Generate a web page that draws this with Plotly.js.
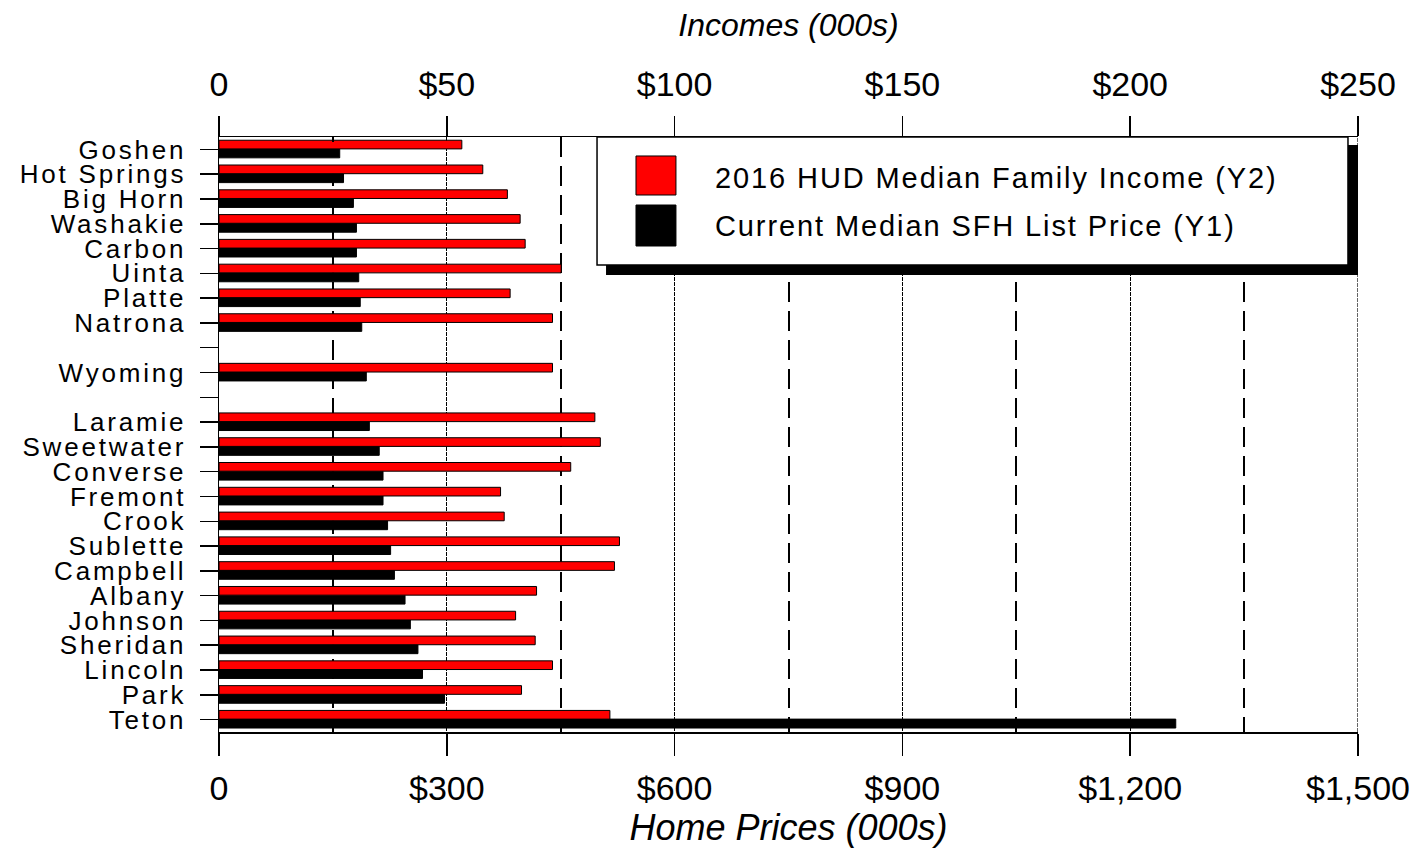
<!DOCTYPE html>
<html>
<head>
<meta charset="utf-8">
<script src="https://cdn.plot.ly/plotly-3.0.1.min.js"></script>
<style>
  html, body { margin: 0; padding: 0; background: #fff; }
  #chart { width: 1422px; height: 850px; }
  .ytick text { letter-spacing: 2.8px; }
  .annotation-text { letter-spacing: 1.9px; }
</style>
</head>
<body>
<div id="chart"></div>
<script>
// Rows from top to bottom (blank strings are the empty spacer rows)
const rows = ['Goshen','Hot Springs','Big Horn','Washakie','Carbon','Uinta','Platte','Natrona',' ','Wyoming','  ','Laramie','Sweetwater','Converse','Fremont','Crook','Sublette','Campbell','Albany','Johnson','Sheridan','Lincoln','Park','Teton'];

// 2016 HUD Median Family Income, $000s (top axis, Y2)
const income = [53.3,57.9,63.3,66.1,67.2,75.1,63.9,73.2,null,73.2,null,82.5,83.7,77.2,61.8,62.6,87.9,86.8,69.7,65.1,69.4,73.2,66.4,85.8];

// Current Median SFH List Price, $000s (bottom axis, Y1)
const price = [159,164,177,181,181,184,186,188,null,194,null,198,211,216,216,222,226,231,245,252,262,268,297,1260];

const priceTicks = [0,300,600,900,1200,1500];
const priceTickText = ['0','$300','$600','$900','$1,200','$1,500'];
const priceMinor = [150,450,750,1050,1350];
const incomeTicks = [0,50,100,150,200,250];
const incomeTickText = ['0','$50','$100','$150','$200','$250'];
const incomeMinor = [25,75,125,175,225];

const seriesNames = ['2016 HUD Median Family Income (Y2)','Current Median SFH List Price (Y1)'];
const seriesColors = ['#ff0000','#000000'];

const FONT = 'Liberation Sans, Arial, sans-serif';

const traces = [
  {
    type: 'bar', orientation: 'h', name: seriesNames[0],
    y: rows, x: income, xaxis: 'x2', yaxis: 'y',
    marker: {color: seriesColors[0], line: {color: '#000', width: 1}},
    width: 0.35, offset: -0.37, showlegend: false, hoverinfo: 'x+y'
  },
  {
    type: 'bar', orientation: 'h', name: seriesNames[1],
    y: rows, x: price, xaxis: 'x', yaxis: 'y',
    marker: {color: seriesColors[1], line: {color: '#000', width: 1}},
    width: 0.36, offset: -0.02, showlegend: false, hoverinfo: 'x+y'
  }
];

// legend geometry in paper fractions
const L = {
  box: [0.3319, 0.9912, 0.7849, 1.0],
  shadow: [0.3398, 1.0, 0.7681, 0.9866],
  sq: [0.3661, 0.4012],
  sqY: [[0.9025, 0.9681], [0.8168, 0.8857]],
  textX: 0.4337,
  textY: [0.9311, 0.8504]
};

const shapes = [
  // right edge grid line at the last major tick
  {type:'line', xref:'x', yref:'paper', x0:priceTicks[priceTicks.length-1], x1:priceTicks[priceTicks.length-1], y0:0, y1:1, line:{color:'#000', width:1.2, dash:'4px,1px'}, layer:'below'},
  {type:'rect', xref:'paper', yref:'paper', x0:L.shadow[0], x1:L.shadow[1], y0:L.shadow[2], y1:L.shadow[3], fillcolor:'#000', line:{width:0}, layer:'above'},
  {type:'rect', xref:'paper', yref:'paper', x0:L.box[0], x1:L.box[1], y0:L.box[2], y1:L.box[3], fillcolor:'#fff', line:{color:'#000', width:1.5}, layer:'above'}
];
const annotations = [];
for (let i = 0; i < 2; i++) {
  shapes.push({type:'rect', xref:'paper', yref:'paper', x0:L.sq[0], x1:L.sq[1], y0:L.sqY[i][0], y1:L.sqY[i][1], fillcolor:seriesColors[i], line:{color:'#000', width:1}, layer:'above'});
  annotations.push({xref:'paper', yref:'paper', x:L.textX, y:L.textY[i], xanchor:'left', yanchor:'middle', text:seriesNames[i], showarrow:false, font:{family:FONT, size:29, color:'#000'}});
}

const layout = {
  width: 1422, height: 850,
  margin: {l: 219, r: 64, t: 137, b: 118, pad: 0},
  paper_bgcolor: '#fff', plot_bgcolor: '#fff',
  font: {family: FONT, color: '#000'},
  barmode: 'overlay',
  showlegend: false,
  xaxis: {
    range: [0, 1500], side: 'bottom', anchor: 'y',
    tickmode: 'array', tickvals: priceTicks, ticktext: priceTickText,
    ticks: 'outside', ticklen: 22, tickwidth: 1.5, tickcolor: '#000',
    tickfont: {family: FONT, size: 34, color: '#000'},
    ticklabelstandoff: 4,
    showline: true, linecolor: '#000', linewidth: 1.5,
    showgrid: true, gridcolor: '#000', gridwidth: 1.2, griddash: '4px,1px',
    zeroline: false,
    minor: {tickmode: 'array', tickvals: priceMinor, ticks: 'inside', ticklen: 5, tickcolor: '#000', tickwidth: 1.5,
            showgrid: true, gridcolor: '#000', gridwidth: 2, griddash: '20px,9px'},
    title: {text: 'Home Prices (000s)', font: {family: FONT, size: 36, style: 'italic', color: '#000'}, standoff: 2},
    automargin: false
  },
  xaxis2: {
    range: [0, 250], side: 'top', overlaying: 'x', anchor: 'y',
    tickmode: 'array', tickvals: incomeTicks, ticktext: incomeTickText,
    ticks: 'outside', ticklen: 20, tickwidth: 1.5, tickcolor: '#000',
    tickfont: {family: FONT, size: 34, color: '#000'},
    ticklabelstandoff: 6,
    showline: true, linecolor: '#000', linewidth: 1.5,
    showgrid: false, zeroline: false,
    minor: {tickmode: 'array', tickvals: incomeMinor, ticks: 'inside', ticklen: 5, tickcolor: '#000', tickwidth: 1.5, showgrid: false},
    title: {text: 'Incomes (000s)', font: {family: FONT, size: 32, style: 'italic', color: '#000'}, standoff: 18},
    automargin: false
  },
  yaxis: {
    type: 'category', categoryorder: 'array', categoryarray: rows,
    range: [23.5, -0.5],
    tickmode: 'array', tickvals: rows, ticktext: rows,
    ticks: 'outside', ticklen: 18, tickwidth: 1.5, tickcolor: '#000',
    tickfont: {family: FONT, size: 26, color: '#000'},
    ticklabelstandoff: 8,
    showline: true, linecolor: '#000', linewidth: 1.5,
    showgrid: false, zeroline: false,
    automargin: false
  },
  shapes: shapes,
  annotations: annotations
};

Plotly.newPlot('chart', traces, layout, {displayModeBar: false, staticPlot: true});
</script>
</body>
</html>
